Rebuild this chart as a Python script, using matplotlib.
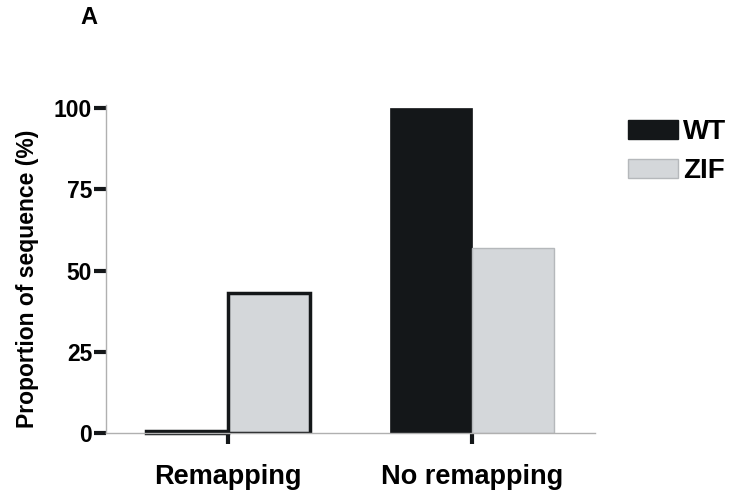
import matplotlib
matplotlib.use('Agg')
import matplotlib.pyplot as plt
import numpy as np
from matplotlib.patches import Patch

plt.rcParams['font.family'] = ['Liberation Sans', 'DejaVu Sans']
plt.rcParams['font.weight'] = 'bold'

groups = ['Remapping', 'No remapping']
wt_vals = [0.5, 100]
zif_vals = [43, 57]
yticks = [0, 25, 50, 75, 100]

black = '#141719'
grey = '#d4d7da'

fig = plt.figure(figsize=(7.32, 4.99), dpi=100)
ax = fig.add_axes([106/732, 1-433/499, (595-106)/732, 328/499])

x = np.arange(len(groups))
w = 0.336
# WT bars
ax.bar(x[0] - w/2, wt_vals[0], w, color=black, edgecolor=black, linewidth=2.5, clip_on=False)
ax.bar(x[1] - w/2, wt_vals[1], w, color=black, edgecolor=black, linewidth=0.5)
# ZIF bars
ax.bar(x[0] + w/2, zif_vals[0], w, color=grey, edgecolor=black, linewidth=2.5)
ax.bar(x[1] + w/2, zif_vals[1], w, color=grey, edgecolor='#b5b8bb', linewidth=1)

ax.set_xlim(-0.5, 1.505)
ax.set_ylim(0, 101)

ax.spines['top'].set_visible(False)
ax.spines['right'].set_visible(False)
for s in ['left', 'bottom']:
    ax.spines[s].set_color('#b0b0b0')
    ax.spines[s].set_linewidth(1)

ax.set_yticks(yticks)
ax.set_yticklabels([str(v) for v in yticks], fontsize=16.5, fontweight='bold')
ax.set_xticks(x)
ax.set_xticklabels(groups, fontsize=19.5, fontweight='bold')
ax.tick_params(axis='y', direction='out', length=9, width=3, color=black, pad=1)
ax.tick_params(axis='x', direction='out', length=8, width=3, color=black, pad=14)

ax.set_ylabel('Proportion of sequence (%)', fontsize=16.5, fontweight='bold')
ax.yaxis.set_label_coords(-0.137, 0.47)

handles = [Patch(facecolor=black, edgecolor=black, label='WT'),
           Patch(facecolor=grey, edgecolor='#b5b8bb', label='ZIF')]
fig.legend(handles=handles, loc='upper left', bbox_to_anchor=(628/732, 1-119/499),
           frameon=False, borderpad=0, borderaxespad=0,
           handlelength=1.8, handleheight=0.65,
           handletextpad=0.18, labelspacing=0.48, prop={'weight': 'bold', 'size': 20})

fig.text(80/732, 1-18/499, 'A', fontsize=17, fontweight='bold', ha='left', va='center')

fig.savefig('out.png', dpi=100)
